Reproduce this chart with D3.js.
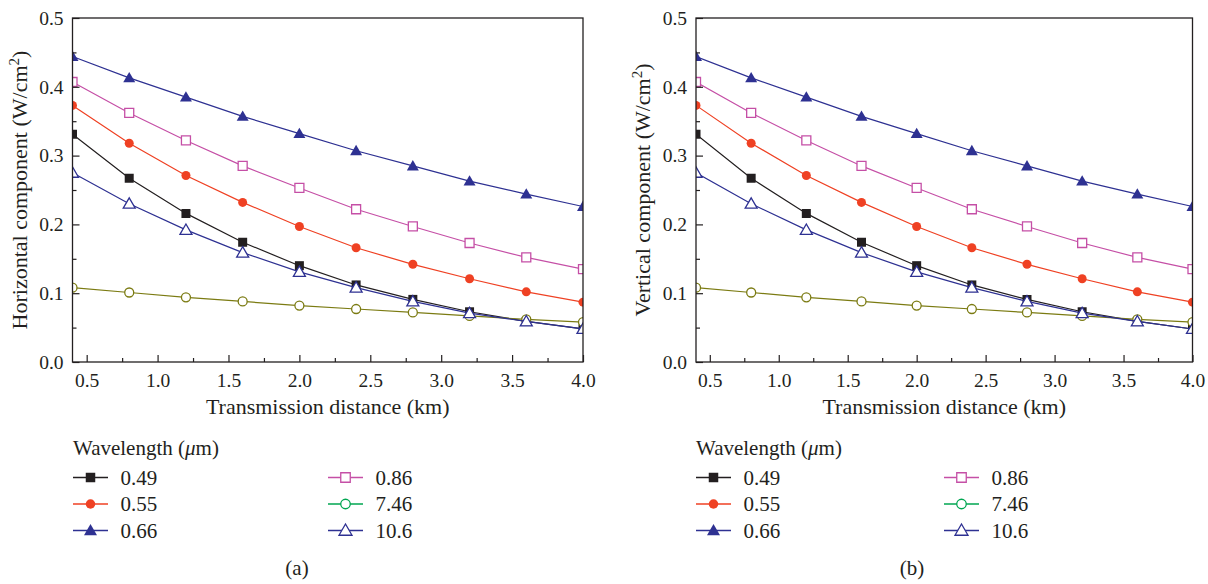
<!doctype html>
<html>
<head>
  <meta charset="utf-8">
  <title>Horizontal and vertical components vs transmission distance</title>
  <script src="https://cdnjs.cloudflare.com/ajax/libs/d3/7.8.5/d3.min.js"></script>
  <style>
    body { margin: 0; background: #fff; }
    svg text { font-family: 'Liberation Serif', 'Times New Roman', serif; fill: #231f20; }
    .tick text { font-size: 19.5px; }
    .tick line { stroke: #231f20; stroke-width: 1.2px; }
    .axis-title { font-size: 22px; }
    .legend text { font-size: 21px; }
  </style>
</head>
<body>
<div id="chart"></div>
<script>
  // distances (km)
  var distance = [0.4, 0.8, 1.2, 1.6, 2.0, 2.4, 2.8, 3.2, 3.6, 4.0];

  // wavelengths (um)
  var wavelengths = ["0.49", "0.55", "0.66", "0.86", "7.46", "10.6"];

  // horizontal component (W/cm2), one array per wavelength
  var h049 = [0.331, 0.267, 0.216, 0.174, 0.140, 0.112, 0.091, 0.073, 0.059, 0.048];
  var h055 = [0.373, 0.318, 0.271, 0.232, 0.197, 0.166, 0.142, 0.121, 0.102, 0.087];
  var h066 = [0.444, 0.413, 0.385, 0.357, 0.332, 0.307, 0.285, 0.263, 0.244, 0.226];
  var h086 = [0.407, 0.362, 0.322, 0.285, 0.253, 0.222, 0.197, 0.173, 0.152, 0.135];
  var h746 = [0.108, 0.101, 0.094, 0.088, 0.082, 0.077, 0.072, 0.067, 0.062, 0.058];
  var h106 = [0.275, 0.230, 0.192, 0.159, 0.131, 0.108, 0.088, 0.071, 0.059, 0.048];

  // vertical component (W/cm2)
  var v049 = [0.331, 0.267, 0.216, 0.174, 0.140, 0.112, 0.091, 0.073, 0.059, 0.048];
  var v055 = [0.373, 0.318, 0.271, 0.232, 0.197, 0.166, 0.142, 0.121, 0.102, 0.087];
  var v066 = [0.444, 0.413, 0.385, 0.357, 0.332, 0.307, 0.285, 0.263, 0.244, 0.226];
  var v086 = [0.407, 0.362, 0.322, 0.285, 0.253, 0.222, 0.197, 0.173, 0.152, 0.135];
  var v746 = [0.108, 0.101, 0.094, 0.088, 0.082, 0.077, 0.072, 0.067, 0.062, 0.058];
  var v106 = [0.275, 0.230, 0.192, 0.159, 0.131, 0.108, 0.088, 0.071, 0.059, 0.048];

  var xTicks = [0.5, 1.0, 1.5, 2.0, 2.5, 3.0, 3.5, 4.0];
  var xMinor = [0.75, 1.25, 1.75, 2.25, 2.75, 3.25, 3.75];
  var yTicks = [0.0, 0.1, 0.2, 0.3, 0.4, 0.5];
  var yMinor = [0.05, 0.15, 0.25, 0.35, 0.45];

  // styling per wavelength: line colour, legend colour, marker shape, filled?
  var styles = {
    "0.49": { color: "#231f20", legend: "#231f20", shape: "square", filled: true },
    "0.55": { color: "#ef4123", legend: "#ef4123", shape: "circle", filled: true },
    "0.66": { color: "#2e3192", legend: "#2e3192", shape: "triangle", filled: true },
    "0.86": { color: "#c54fa6", legend: "#c54fa6", shape: "square", filled: false },
    "7.46": { color: "#7b7b12", legend: "#00a651", shape: "circle", filled: false },
    "10.6": { color: "#2e3192", legend: "#2e3192", shape: "triangle", filled: false }
  };

  var width = 1208, height = 584;
  var svg = d3.select("#chart").append("svg").attr("width", width).attr("height", height);

  var panels = [
    { id: "a", title: "Horizontal component (W/cm", series: [h049, h055, h066, h086, h746, h106],
      left: 72.5, right: 583, titleX: 27, legendX: 73, legendX2: 328, captionX: 297 },
    { id: "b", title: "Vertical component (W/cm", series: [v049, v055, v066, v086, v746, v106],
      left: 696, right: 1192.5, titleX: 650, legendX: 696, legendX2: 944, captionX: 912 }
  ];

  var plotTop = 18, plotBottom = 362;

  function marker(sel, st, size) {
    var sym;
    if (st.shape === "square") sym = d3.symbol(d3.symbolSquare, size * size);
    else if (st.shape === "circle") sym = d3.symbol(d3.symbolCircle, Math.PI * (size / 2) * (size / 2));
    else sym = d3.symbol(d3.symbolTriangle, size * size * 0.433);
    sel.attr("d", sym)
      .attr("fill", st.filled ? st.color : "#fff")
      .attr("stroke", st.color)
      .attr("stroke-width", st.filled ? 0 : 1.3);
  }

  panels.forEach(function (p) {
    var x = d3.scaleLinear().domain([0.4, 4.0]).range([p.left, p.right]);
    var y = d3.scaleLinear().domain([0, 0.5]).range([plotBottom, plotTop]);
    var g = svg.append("g").attr("class", "panel-" + p.id);

    g.append("clipPath").attr("id", "clip-" + p.id)
      .append("rect")
      .attr("x", p.left).attr("y", plotTop)
      .attr("width", p.right - p.left).attr("height", plotBottom - plotTop);

    var plot = g.append("g").attr("clip-path", "url(#clip-" + p.id + ")");
    var line = d3.line().x(function (d, i) { return x(distance[i]); }).y(function (d) { return y(d); });

    p.series.forEach(function (vals, k) {
      var st = styles[wavelengths[k]];
      plot.append("path").datum(vals)
        .attr("d", line)
        .attr("fill", "none")
        .attr("stroke", st.color)
        .attr("stroke-width", 1.2);
      plot.selectAll(null).data(vals).join("path")
        .attr("transform", function (d, i) { return "translate(" + x(distance[i]) + "," + (y(d) + (st.shape === "triangle" ? 1 : 0)) + ")"; })
        .call(marker, st, st.shape === "triangle" ? 12 : 9);
    });

    // axes
    var xAxis = g.append("g").attr("transform", "translate(0," + plotBottom + ")")
      .call(d3.axisBottom(x).tickValues(xTicks).tickFormat(d3.format(".1f")).tickSizeInner(-7).tickSizeOuter(0).tickPadding(11));
    var xAxisMinor = g.append("g").attr("transform", "translate(0," + plotBottom + ")")
      .call(d3.axisBottom(x).tickValues(xMinor).tickFormat("").tickSizeInner(-4).tickSizeOuter(0));
    var yAxis = g.append("g").attr("transform", "translate(" + p.left + ",0)")
      .call(d3.axisLeft(y).tickValues(yTicks).tickFormat(d3.format(".1f")).tickSizeInner(-7).tickSizeOuter(0).tickPadding(9));
    var yAxisMinor = g.append("g").attr("transform", "translate(" + p.left + ",0)")
      .call(d3.axisLeft(y).tickValues(yMinor).tickFormat("").tickSizeInner(-4).tickSizeOuter(0));
    [xAxis, xAxisMinor, yAxis, yAxisMinor].forEach(function (a) {
      a.select(".domain").remove();
      a.attr("font-family", null).attr("font-size", null);
    });

    // frame
    g.append("rect")
      .attr("x", p.left).attr("y", plotTop)
      .attr("width", p.right - p.left).attr("height", plotBottom - plotTop)
      .attr("fill", "none").attr("stroke", "#231f20").attr("stroke-width", 1.3);

    // axis titles
    g.append("text").attr("class", "axis-title")
      .attr("x", (p.left + p.right) / 2).attr("y", 414)
      .attr("text-anchor", "middle")
      .text("Transmission distance (km)");

    var yt = g.append("text").attr("class", "axis-title")
      .attr("transform", "translate(" + p.titleX + "," + ((plotTop + plotBottom) / 2) + ") rotate(-90)")
      .attr("text-anchor", "middle");
    yt.append("tspan").text(p.title);
    yt.append("tspan").attr("font-size", "15px").attr("dy", "-8").text("2");
    yt.append("tspan").attr("dy", "8").text(")");

    // legend
    var lg = g.append("g").attr("class", "legend");
    var lt = lg.append("text").attr("x", p.legendX).attr("y", 455);
    lt.append("tspan").text("Wavelength (");
    lt.append("tspan").attr("font-style", "italic").text("\u03bc");
    lt.append("tspan").text("m)");

    wavelengths.forEach(function (w, k) {
      var st = styles[w];
      var col = k < 3 ? p.legendX : p.legendX2;
      var cy = 477.5 + (k % 3) * 26.5;
      var item = lg.append("g").attr("transform", "translate(" + col + "," + cy + ")");
      item.append("line").attr("x1", 0).attr("x2", 35).attr("y1", 0).attr("y2", 0)
        .attr("stroke", st.legend).attr("stroke-width", 1.3);
      var lst = Object.assign({}, st, { color: st.legend });
      item.append("path").attr("transform", "translate(17.5," + (st.shape === "triangle" ? 1 : 0) + ")")
        .call(marker, lst, st.shape === "triangle" ? 13 : 9.5);
      item.append("text").attr("x", 47.5).attr("y", 7).text(w);
    });

    // caption
    g.append("text").attr("x", p.captionX).attr("y", 575)
      .attr("text-anchor", "middle").attr("font-size", "21px")
      .text("(" + p.id + ")");
  });
</script>
</body>
</html>
